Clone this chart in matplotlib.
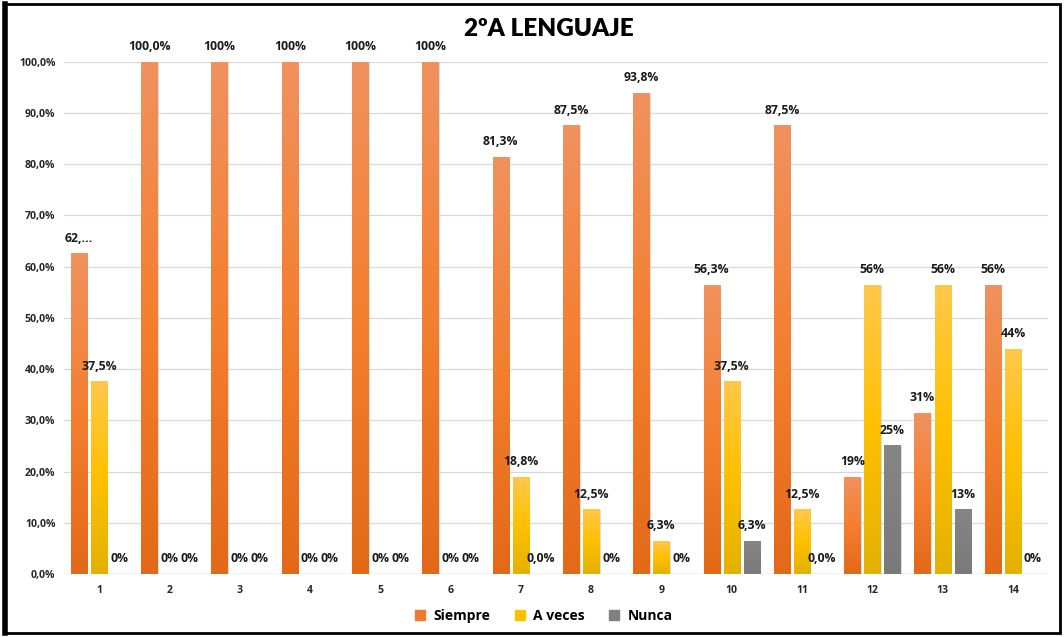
import numpy as np
import matplotlib
matplotlib.use("Agg")
import matplotlib.pyplot as plt
from matplotlib.colors import LinearSegmentedColormap
from matplotlib.patches import Rectangle
from matplotlib.lines import Line2D

# preguntas 1..14
categories = [str(i) for i in range(1, 15)]
siempre = [62.5, 100, 100, 100, 100, 100, 81.3, 87.5, 93.8, 56.3, 87.5, 18.8, 31.3, 56.3]
a_veces = [37.5, 0, 0, 0, 0, 0, 18.8, 12.5, 6.3, 37.5, 12.5, 56.3, 56.3, 43.8]
nunca = [0, 0, 0, 0, 0, 0, 0, 0, 0, 6.3, 0, 25, 12.5, 0]

siempre_lbl = ["62,...", "100,0%", "100%", "100%", "100%", "100%", "81,3%",
               "87,5%", "93,8%", "56,3%", "87,5%", "19%", "31%", "56%"]
a_veces_lbl = ["37,5%", "0%", "0%", "0%", "0%", "0%", "18,8%", "12,5%",
               "6,3%", "37,5%", "12,5%", "56%", "56%", "44%"]
nunca_lbl = ["0%", "0%", "0%", "0%", "0%", "0%", "0,0%", "0%", "0%",
             "6,3%", "0,0%", "25%", "13%", "0%"]

plt.rcParams['font.family'] = ['Open Sans', 'DejaVu Sans']
plt.rcParams['font.weight'] = 'bold'

fig = plt.figure(figsize=(10.64, 6.37), dpi=100)
ax = fig.add_axes([0.060, 0.099, 0.925, 0.804])

x = np.arange(len(categories))
w = 0.23
step = 0.285

series = [
    ("Siempre", siempre, siempre_lbl, ["#F0915E", "#F47F30", "#E36918"], "#F07A2E"),
    ("A veces", a_veces, a_veces_lbl, ["#FFC84A", "#FFC000", "#E3B100"], "#FFC000"),
    ("Nunca", nunca, nunca_lbl, ["#858585", "#808080", "#7A7A7A"], "#808080"),
]

grad = np.linspace(1, 0, 100).reshape(-1, 1)
for i, (name, vals, lbls, cols, solid) in enumerate(series):
    cmap = LinearSegmentedColormap.from_list(name, cols[::-1])
    pos = x + (i - 1) * step
    bars = ax.bar(pos, vals, w, color=solid, zorder=2, label=name)
    for b, v, t in zip(bars, vals, lbls):
        x0 = b.get_x()
        if v > 0:
            # sombra
            ax.add_patch(Rectangle((x0 + 0.02, 0), w, v, color="#BFBFBF",
                                   alpha=0.5, zorder=1.5, lw=0))
            ax.imshow(grad, cmap=cmap, extent=[x0, x0 + w, 0, v],
                      aspect='auto', zorder=2.5, vmin=0, vmax=1)
        ax.text(x0 + w / 2, v + 1.8, t, ha='center', va='bottom',
                fontsize=8.8, fontweight='bold', color="#1A1A1A",
                clip_on=False, zorder=4)

ax.set_xlim(-0.5, len(categories) - 0.5)
ax.set_ylim(0, 100)
ax.set_yticks(np.arange(0, 101, 10))
ax.set_yticklabels([f"{v},0%" for v in range(0, 101, 10)])
ax.set_xticks(x)
ax.set_xticklabels(categories)
ax.tick_params(length=0, labelsize=7.6, colors="#262626", pad=8)
ax.tick_params(axis='y', pad=6)
ax.grid(axis='y', color="#D9D9D9", lw=0.9, zorder=0)
ax.set_axisbelow(True)
for s in ax.spines.values():
    s.set_visible(False)
ax.axhline(0, color="#D9D9D9", lw=1, zorder=1)

fig.text(0.516, 0.955, "2ºA LENGUAJE", ha='center', va='center',
         fontsize=17.5, fontweight='heavy', color="#000000",
         family=['Lato', 'DejaVu Sans'])

handles = [Line2D([], [], marker='s', ls='', markersize=7, color=s[4]) for s in series]
fig.legend(handles, [s[0] for s in series], loc='center', ncol=3,
           bbox_to_anchor=(0.507, 0.033), frameon=False,
           handletextpad=0.0, columnspacing=1.1, prop={'weight': 'bold', 'size': 10})

# marco
fig.patches.append(Rectangle((0.005, 0.006), 0.991, 0.988, transform=fig.transFigure,
                             fill=False, ec="black", lw=2))
fig.lines.append(Line2D([0.005, 0.005], [0.006, 0.994], transform=fig.transFigure,
                        color="black", lw=4))

fig.savefig("out.png", dpi=100)
